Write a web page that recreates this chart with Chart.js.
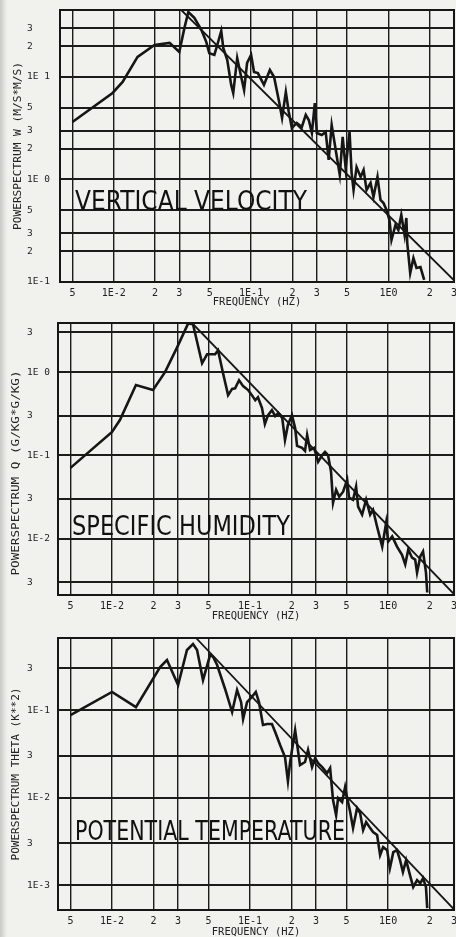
<!DOCTYPE html>
<html>
<head>
<meta charset="utf-8">
<title>Powerspectra</title>
<script src="https://cdn.jsdelivr.net/npm/chart.js@4.4.1/dist/chart.umd.min.js"></script>
<style>
  html, body { margin: 0; padding: 0; background: #f1f1ee; overflow: hidden; width: 456px; height: 937px; }
  .panel { position: absolute; left: 0; }
  .edge { position: absolute; left: 0; top: 0; width: 7px; height: 937px; background: linear-gradient(to right, #c9c9c5, rgba(241,241,238,0)); }
</style>
</head>
<body>
<canvas id="wChart" class="panel" width="462" height="312" style="top:0"></canvas>
<canvas id="qChart" class="panel" width="462" height="313" style="top:312px"></canvas>
<canvas id="tChart" class="panel" width="462" height="313" style="top:625px"></canvas>
<div class="edge"></div>
<script>
// frequency axis shared by all three panels
const freqTicks = [0.005, 0.01, 0.02, 0.03, 0.05, 0.1, 0.2, 0.3, 0.5, 1, 2, 3];
const freqLabels = ["5", "1E-2", "2", "3", "5", "1E-1", "2", "3", "5", "1E0", "2", "3"];

// vertical velocity
const wTicks = [0.1, 0.2, 0.3, 0.5, 1, 2, 3, 5, 10, 20, 30];
const wTickLabels = ["1E-1", "2", "3", "5", "1E 0", "2", "3", "5", "1E 1", "2", "3"];
const wFreq = [0.005, 0.0098, 0.0116, 0.0149, 0.0198, 0.0255, 0.030, 0.0327, 0.0349, 0.0386, 0.0434, 0.0472, 0.0496, 0.054, 0.0567, 0.0606, 0.0627, 0.067, 0.0716, 0.0741, 0.0792, 0.0847, 0.0889, 0.0935, 0.100, 0.105, 0.112, 0.124, 0.137, 0.147, 0.160, 0.168, 0.179, 0.188, 0.198, 0.215, 0.234, 0.250, 0.263, 0.277, 0.291, 0.301, 0.327, 0.349, 0.367, 0.386, 0.413, 0.442, 0.464, 0.488, 0.521, 0.539, 0.557, 0.586, 0.627, 0.659, 0.693, 0.741, 0.778, 0.832, 0.875, 0.920, 0.968, 1.017, 1.052, 1.125, 1.18, 1.24, 1.31, 1.35, 1.37, 1.44, 1.52, 1.60, 1.71, 1.82];
const wPower = [3.64, 6.98, 8.94, 15.7, 20.5, 21.5, 17.5, 30.1, 43.0, 37.7, 28.8, 21.9, 17, 16.4, 20.5, 28.1, 19.2, 14.7, 8.36, 6.98, 15.3, 10, 7.46, 13.7, 16.4, 11.2, 10.9, 8.36, 11.7, 10, 5.70, 3.98, 7.14, 4.56, 3.18, 3.56, 3.25, 4.26, 3.80, 2.84, 5.57, 2.84, 2.72, 2.91, 1.55, 3.40, 1.94, 1.11, 2.60, 1.29, 2.91, 1.16, 0.79, 1.32, 1.06, 1.24, 0.79, 0.925, 0.675, 1.06, 0.631, 0.590, 0.504, 0.402, 0.257, 0.360, 0.321, 0.451, 0.288, 0.421, 0.240, 0.122, 0.171, 0.137, 0.140, 0.105];
const wFitFreq = [0.031, 3];
const wFitPower = [45, 0.104];

// specific humidity
const qTicks = [0.003, 0.01, 0.03, 0.1, 0.3, 1, 3];
const qTickLabels = ["3", "1E-2", "3", "1E-1", "3", "1E 0", "3"];
const qFreq = [0.005, 0.01, 0.0114, 0.0149, 0.0198, 0.0242, 0.0296, 0.0356, 0.0386, 0.0449, 0.0488, 0.0558, 0.0586, 0.0637, 0.0693, 0.0741, 0.0779, 0.0832, 0.089, 0.0968, 0.103, 0.109, 0.114, 0.122, 0.128, 0.135, 0.144, 0.152, 0.160, 0.171, 0.179, 0.188, 0.201, 0.212, 0.219, 0.238, 0.250, 0.259, 0.272, 0.291, 0.311, 0.333, 0.349, 0.367, 0.386, 0.399, 0.420, 0.442, 0.472, 0.505, 0.521, 0.557, 0.586, 0.606, 0.648, 0.693, 0.741, 0.778, 0.832, 0.906, 0.968, 1.0, 1.07, 1.16, 1.26, 1.33, 1.40, 1.49, 1.57, 1.62, 1.71, 1.79, 1.88, 1.92];
const qPower = [0.0708, 0.191, 0.266, 0.70, 0.61, 1.0, 1.99, 3.86, 3.76, 1.28, 1.64, 1.64, 1.83, 0.97, 0.53, 0.63, 0.64, 0.80, 0.68, 0.61, 0.53, 0.46, 0.50, 0.37, 0.238, 0.305, 0.35, 0.297, 0.323, 0.281, 0.153, 0.232, 0.305, 0.213, 0.130, 0.123, 0.113, 0.176, 0.116, 0.123, 0.0836, 0.101, 0.110, 0.101, 0.0634, 0.0270, 0.0386, 0.0318, 0.0366, 0.0509, 0.0310, 0.0293, 0.0420, 0.0242, 0.0194, 0.0293, 0.0194, 0.0222, 0.0139, 0.0080, 0.0156, 0.0092, 0.0106, 0.0080, 0.0064, 0.0049, 0.0074, 0.0059, 0.0056, 0.0039, 0.0061, 0.0070, 0.0039, 0.00225];
const qFitFreq = [0.038, 3];
const qFitPower = [3.9, 0.00215];

// potential temperature
const tTicks = [0.001, 0.003, 0.01, 0.03, 0.1, 0.3];
const tTickLabels = ["1E-3", "3", "1E-2", "3", "1E-1", "3"];
const tFreq = [0.005, 0.01, 0.0149, 0.0223, 0.0250, 0.0301, 0.0349, 0.0386, 0.0413, 0.0456, 0.0513, 0.0540, 0.0577, 0.0659, 0.0741, 0.0805, 0.0861, 0.0890, 0.0951, 0.103, 0.110, 0.116, 0.124, 0.133, 0.144, 0.152, 0.165, 0.179, 0.188, 0.195, 0.212, 0.230, 0.250, 0.263, 0.281, 0.296, 0.311, 0.333, 0.361, 0.380, 0.399, 0.420, 0.434, 0.464, 0.488, 0.505, 0.531, 0.557, 0.596, 0.627, 0.659, 0.693, 0.741, 0.778, 0.832, 0.875, 0.920, 0.984, 1.03, 1.09, 1.16, 1.22, 1.28, 1.35, 1.44, 1.52, 1.62, 1.71, 1.79, 1.88, 1.92];
const tPower = [0.0877, 0.161, 0.108, 0.310, 0.373, 0.193, 0.485, 0.568, 0.485, 0.220, 0.425, 0.404, 0.327, 0.174, 0.0949, 0.169, 0.123, 0.0789, 0.123, 0.141, 0.161, 0.123, 0.0674, 0.0692, 0.0692, 0.0561, 0.0398, 0.0290, 0.0154, 0.0255, 0.0591, 0.0235, 0.0255, 0.0349, 0.0223, 0.0283, 0.0248, 0.0223, 0.0190, 0.0217, 0.00936, 0.0063, 0.00986, 0.00889, 0.0132, 0.00986, 0.00683, 0.00448, 0.00759, 0.00665, 0.00425, 0.00525, 0.00448, 0.00404, 0.00373, 0.0022, 0.00272, 0.00251, 0.00156, 0.00238, 0.00251, 0.00193, 0.00141, 0.00193, 0.0013, 0.00095, 0.00114, 0.00105, 0.0012, 0.00095, 0.000546];
const tFitFreq = [0.0406, 3];
const tFitPower = [0.665, 0.00053];

const INK = "#161616";
Chart.defaults.font.family = "'DejaVu Sans Mono', monospace";
Chart.defaults.color = "#222";

// frame, rotated y title and the handwritten label
const sketchPlugin = {
  id: "sketch",
  beforeDatasetsDraw(chart) {
    const { ctx, chartArea: a } = chart;
    ctx.save();
    ctx.strokeStyle = INK;
    ctx.lineWidth = 2;
    ctx.strokeRect(a.left, a.top, a.right - a.left, a.bottom - a.top);
    ctx.restore();
  },
  afterDraw(chart, args, opts) {
    const { ctx, chartArea: a } = chart;
    ctx.save();
    ctx.fillStyle = "#222";
    ctx.font = "11px 'DejaVu Sans Mono'";
    ctx.textAlign = "center";
    ctx.textBaseline = "middle";
    ctx.translate(opts.titleX, (a.top + a.bottom) / 2 + opts.titleShift);
    ctx.rotate(-Math.PI / 2);
    ctx.scale(opts.titleLen / ctx.measureText(opts.title).width, 1);
    ctx.fillText(opts.title, 0, 0);
    ctx.restore();

    ctx.save();
    ctx.fillStyle = "#111";
    ctx.font = "26px 'DejaVu Sans'";
    ctx.textBaseline = "alphabetic";
    ctx.fillText(opts.note, a.left + opts.noteX, opts.noteY, opts.noteW);
    ctx.restore();
  }
};

function spectrumChart(id, cfg) {
  const points = (xs, ys) => xs.map((x, i) => ({ x, y: ys[i] }));
  return new Chart(document.getElementById(id), {
    type: "line",
    data: {
      datasets: [
        { data: points(cfg.freq, cfg.power), borderColor: INK, borderWidth: 2.6, pointRadius: 0, tension: 0 },
        { data: points(cfg.fitFreq, cfg.fitPower), borderColor: INK, borderWidth: 1.8, pointRadius: 0 }
      ]
    },
    options: {
      responsive: false,
      animation: false,
      devicePixelRatio: 1,
      layout: { padding: { top: cfg.padTop, bottom: cfg.padBottom, left: 27, right: 7 } },
      plugins: {
        legend: { display: false },
        tooltip: { enabled: false },
        sketch: cfg.sketch
      },
      scales: {
        x: {
          type: "logarithmic",
          min: 0.00406,
          max: 3,
          afterBuildTicks: (s) => { s.ticks = freqTicks.map((v) => ({ value: v })); },
          afterFit: (s) => { s.height = cfg.xHeight; },
          grid: { color: "#1c1c1c", lineWidth: 1.4, drawTicks: false },
          border: { display: true, color: INK, width: 2 },
          ticks: { autoSkip: false, maxRotation: 0, padding: 5, font: { size: 10 }, callback: (v, i) => freqLabels[i] },
          title: { display: true, text: "FREQUENCY (HZ)", font: { size: 10.5, lineHeight: 1 }, padding: 0 }
        },
        y: {
          type: "logarithmic",
          min: cfg.yMin,
          max: cfg.yMax,
          afterBuildTicks: (s) => { s.ticks = cfg.yTicks.map((v) => ({ value: v })); },
          afterFit: (s) => { s.width = cfg.yWidth; },
          grid: { color: "#1c1c1c", lineWidth: 2, drawTicks: false },
          border: { display: true, color: INK, width: 2 },
          ticks: { autoSkip: false, crossAlign: "far", font: { size: 9.5 }, callback: (v, i) => cfg.yLabels[i] }
        }
      }
    },
    plugins: [sketchPlugin]
  });
}

spectrumChart("wChart", {
  freq: wFreq, power: wPower, fitFreq: wFitFreq, fitPower: wFitPower,
  yTicks: wTicks, yLabels: wTickLabels, yMin: 0.1, yMax: 45,
  padTop: 10, padBottom: 4, xHeight: 26, yWidth: 33,
  sketch: { title: "POWERSPECTRUM W (M/S*M/S)", titleX: 18, titleShift: 0, titleLen: 168,
            note: "VERTICAL VELOCITY", noteX: 15, noteY: 210, noteW: 232 }
});

spectrumChart("qChart", {
  freq: qFreq, power: qPower, fitFreq: qFitFreq, fitPower: qFitPower,
  yTicks: qTicks, yLabels: qTickLabels, yMin: 0.0021, yMax: 3.9,
  padTop: 11, padBottom: 3, xHeight: 27, yWidth: 31,
  sketch: { title: "POWERSPECTRUM Q (G/KG*G/KG)", titleX: 16, titleShift: 14, titleLen: 205,
            note: "SPECIFIC HUMIDITY", noteX: 14, noteY: 223, noteW: 218 }
});

spectrumChart("tChart", {
  freq: tFreq, power: tPower, fitFreq: tFitFreq, fitPower: tFitPower,
  yTicks: tTicks, yLabels: tTickLabels, yMin: 0.00052, yMax: 0.665,
  padTop: 13, padBottom: 0, xHeight: 28, yWidth: 31,
  sketch: { title: "POWERSPECTRUM THETA (K**2)", titleX: 16, titleShift: 0, titleLen: 173,
            note: "POTENTIAL TEMPERATURE", noteX: 17, noteY: 215, noteW: 270 }
});
</script>
</body>
</html>
